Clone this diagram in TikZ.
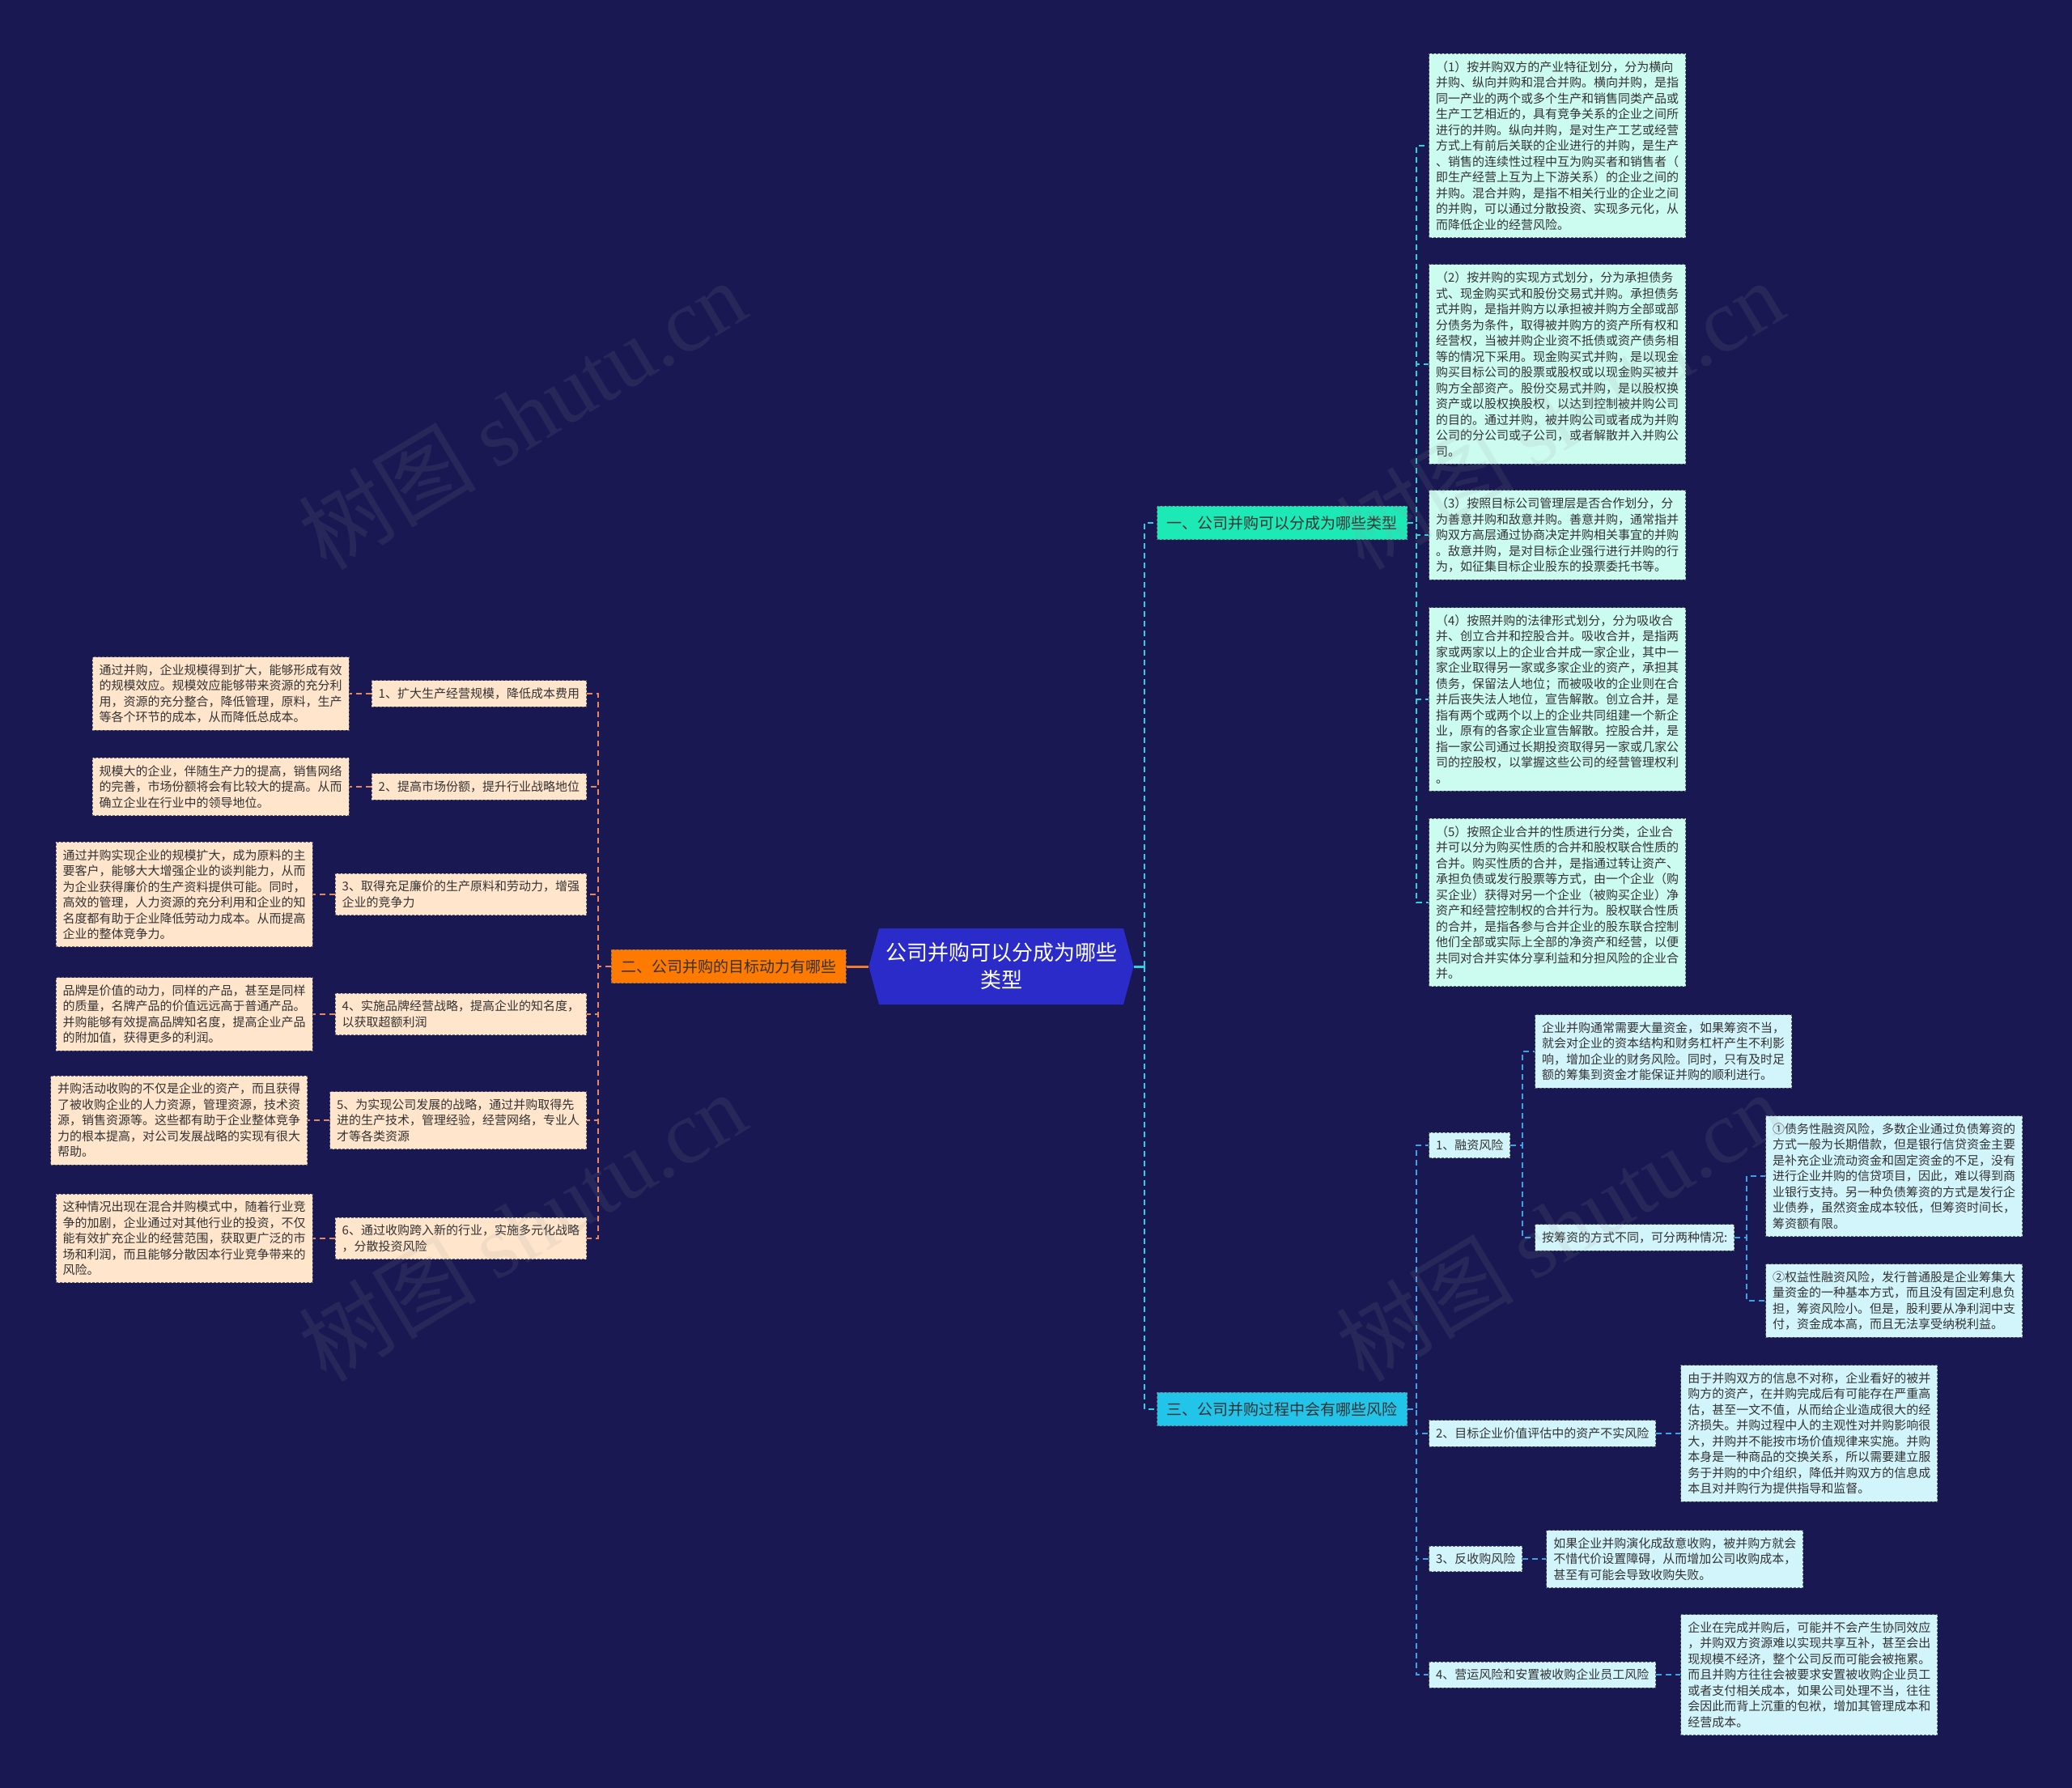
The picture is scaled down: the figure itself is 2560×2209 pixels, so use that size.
\documentclass[tikz,border=0pt]{standalone}
\usepackage{fontspec}
\setmainfont{Noto Sans CJK SC}
\newfontfamily\wmfont{Liberation Serif}
\usepackage{tikz}
\usetikzlibrary{positioning,shapes.symbols,calc}
\definecolor{night}{HTML}{191852}
\definecolor{royal}{HTML}{2A2BC8}
\definecolor{mint}{HTML}{1DE9B6}
\definecolor{amber}{HTML}{FF7A00}
\definecolor{sky}{HTML}{22C4EA}
\definecolor{mintpale}{HTML}{CCFBF0}
\definecolor{skypale}{HTML}{D2F4FB}
\definecolor{peach}{HTML}{FFE5CC}
\definecolor{ink}{HTML}{333333}
\definecolor{rim}{HTML}{5F6670}
\definecolor{tealline}{HTML}{2AD3D6}
\definecolor{spine}{HTML}{2ED0E6}
\definecolor{blueline}{HTML}{3FA2E6}
\definecolor{salmon}{HTML}{E8865E}
\definecolor{ember}{HTML}{F07A30}

\begin{document}
\begin{tikzpicture}[x=1pt,y=-1pt,
  node distance=27pt,
  rootbox/.style={signal,signal to=east and west,signal pointer angle=150,fill=royal,text=white,font=\fontsize{26}{34}\selectfont,align=center,inner xsep=8pt,inner ysep=18pt},
  headbox/.style={draw=rim,dash pattern=on 3pt off 2pt,line width=1pt,text=ink,font=\fontsize{19}{24}\selectfont,inner xsep=12pt,inner ysep=12pt},
  notebox/.style={draw=rim,dash pattern=on 3pt off 2pt,line width=1pt,text=ink,font=\fontsize{15}{19.5}\selectfont,align=left,inner xsep=8.5pt,inner ysep=9pt},
  typenote/.style={notebox,fill=mintpale,anchor=west},
  motivenote/.style={notebox,fill=peach},
  risknote/.style={notebox,fill=skypale,anchor=west},
  spinelink/.style={draw=spine,line width=2pt,dash pattern=on 7pt off 5pt},
  typelink/.style={draw=tealline,line width=2pt,dash pattern=on 7pt off 5pt},
  motivelink/.style={draw=salmon,line width=2pt,dash pattern=on 7pt off 5pt},
  risklink/.style={draw=blueline,line width=2pt,dash pattern=on 7pt off 5pt},
  watermark/.style={text=black!40,opacity=0.12,rotate=31,font=\fontsize{110}{110}\selectfont}
]
\fill[night] (0,0) rectangle (2560,2209);
\useasboundingbox (0,0) rectangle (2560,2209);

\node[rootbox] (root) at (1237,1194) {公司并购可以分成为哪些\\类型};
\node[headbox,fill=mint] (b1) at (1584,646) {一、公司并购可以分成为哪些类型};
\node[headbox,fill=amber] (b2) at (900,1194) {二、公司并购的目标动力有哪些};
\node[headbox,fill=sky] (b3) at (1584,1741) {三、公司并购过程中会有哪些风险};

\node[typenote] (t1) at (1765,180) {（1）按并购双方的产业特征划分，分为横向\\并购、纵向并购和混合并购。横向并购，是指\\同一产业的两个或多个生产和销售同类产品或\\生产工艺相近的，具有竞争关系的企业之间所\\进行的并购。纵向并购，是对生产工艺或经营\\方式上有前后关联的企业进行的并购，是生产\\、销售的连续性过程中互为购买者和销售者（\\即生产经营上互为上下游关系）的企业之间的\\并购。混合并购，是指不相关行业的企业之间\\的并购，可以通过分散投资、实现多元化，从\\而降低企业的经营风险。};
\node[typenote] (t2) at (1765,450) {（2）按并购的实现方式划分，分为承担债务\\式、现金购买式和股份交易式并购。承担债务\\式并购，是指并购方以承担被并购方全部或部\\分债务为条件，取得被并购方的资产所有权和\\经营权，当被并购企业资不抵债或资产债务相\\等的情况下采用。现金购买式并购，是以现金\\购买目标公司的股票或股权或以现金购买被并\\购方全部资产。股份交易式并购，是以股权换\\资产或以股权换股权，以达到控制被并购公司\\的目的。通过并购，被并购公司或者成为并购\\公司的分公司或子公司，或者解散并入并购公\\司。};
\node[typenote] (t3) at (1765,661) {（3）按照目标公司管理层是否合作划分，分\\为善意并购和敌意并购。善意并购，通常指并\\购双方高层通过协商决定并购相关事宜的并购\\。敌意并购，是对目标企业强行进行并购的行\\为，如征集目标企业股东的投票委托书等。};
\node[typenote] (t4) at (1765,864) {（4）按照并购的法律形式划分，分为吸收合\\并、创立合并和控股合并。吸收合并，是指两\\家或两家以上的企业合并成一家企业，其中一\\家企业取得另一家或多家企业的资产，承担其\\债务，保留法人地位；而被吸收的企业则在合\\并后丧失法人地位，宣告解散。创立合并，是\\指有两个或两个以上的企业共同组建一个新企\\业，原有的各家企业宣告解散。控股合并，是\\指一家公司通过长期投资取得另一家或几家公\\司的控股权，以掌握这些公司的经营管理权利\\。};
\node[typenote] (t5) at (1765,1115) {（5）按照企业合并的性质进行分类，企业合\\并可以分为购买性质的合并和股权联合性质的\\合并。购买性质的合并，是指通过转让资产、\\承担负债或发行股票等方式，由一个企业（购\\买企业）获得对另一个企业（被购买企业）净\\资产和经营控制权的合并行为。股权联合性质\\的合并，是指各参与合并企业的股东联合控制\\他们全部或实际上全部的净资产和经营，以便\\共同对合并实体分享利益和分担风险的企业合\\并。};

\node[motivenote,anchor=east] (m1) at (725,857) {1、扩大生产经营规模，降低成本费用};
\node[motivenote,anchor=east] (m2) at (725,972) {2、提高市场份额，提升行业战略地位};
\node[motivenote,anchor=east] (m3) at (725,1105) {3、取得充足廉价的生产原料和劳动力，增强\\企业的竞争力};
\node[motivenote,anchor=east] (m4) at (725,1253) {4、实施品牌经营战略，提高企业的知名度，\\以获取超额利润};
\node[motivenote,anchor=east] (m5) at (725,1384) {5、为实现公司发展的战略，通过并购取得先\\进的生产技术，管理经验，经营网络，专业人\\才等各类资源};
\node[motivenote,anchor=east] (m6) at (725,1530) {6、通过收购跨入新的行业，实施多元化战略\\，分散投资风险};
\node[motivenote,left=of m1] (d1) {通过并购，企业规模得到扩大，能够形成有效\\的规模效应。规模效应能够带来资源的充分利\\用，资源的充分整合，降低管理，原料，生产\\等各个环节的成本，从而降低总成本。};
\node[motivenote,left=of m2] (d2) {规模大的企业，伴随生产力的提高，销售网络\\的完善，市场份额将会有比较大的提高。从而\\确立企业在行业中的领导地位。};
\node[motivenote,left=of m3] (d3) {通过并购实现企业的规模扩大，成为原料的主\\要客户，能够大大增强企业的谈判能力，从而\\为企业获得廉价的生产资料提供可能。同时，\\高效的管理，人力资源的充分利用和企业的知\\名度都有助于企业降低劳动力成本。从而提高\\企业的整体竞争力。};
\node[motivenote,left=of m4] (d4) {品牌是价值的动力，同样的产品，甚至是同样\\的质量，名牌产品的价值远远高于普通产品。\\并购能够有效提高品牌知名度，提高企业产品\\的附加值，获得更多的利润。};
\node[motivenote,left=of m5] (d5) {并购活动收购的不仅是企业的资产，而且获得\\了被收购企业的人力资源，管理资源，技术资\\源，销售资源等。这些都有助于企业整体竞争\\力的根本提高，对公司发展战略的实现有很大\\帮助。};
\node[motivenote,left=of m6] (d6) {这种情况出现在混合并购模式中，随着行业竞\\争的加剧，企业通过对其他行业的投资，不仅\\能有效扩充企业的经营范围，获取更广泛的市\\场和利润，而且能够分散因本行业竞争带来的\\风险。};

\node[risknote] (r1) at (1765,1415) {1、融资风险};
\node[risknote] (r2) at (1765,1771) {2、目标企业价值评估中的资产不实风险};
\node[risknote] (r3) at (1765,1926) {3、反收购风险};
\node[risknote] (r4) at (1765,2069) {4、营运风险和安置被收购企业员工风险};
\node[risknote] (r1a) at (1896,1299) {企业并购通常需要大量资金，如果筹资不当，\\就会对企业的资本结构和财务杠杆产生不利影\\响，增加企业的财务风险。同时，只有及时足\\额的筹集到资金才能保证并购的顺利进行。};
\node[risknote] (r1b) at (1896,1529) {按筹资的方式不同，可分两种情况:};
\node[risknote] (r1b1) at (2181,1453) {①债务性融资风险，多数企业通过负债筹资的\\方式一般为长期借款，但是银行信贷资金主要\\是补充企业流动资金和固定资金的不足，没有\\进行企业并购的信贷项目，因此，难以得到商\\业银行支持。另一种负债筹资的方式是发行企\\业债券，虽然资金成本较低，但筹资时间长，\\筹资额有限。};
\node[risknote] (r1b2) at (2181,1607) {②权益性融资风险，发行普通股是企业筹集大\\量资金的一种基本方式，而且没有固定利息负\\担，筹资风险小。但是，股利要从净利润中支\\付，资金成本高，而且无法享受纳税利益。};
\node[risknote,right=30pt of r2] (r2a) {由于并购双方的信息不对称，企业看好的被并\\购方的资产，在并购完成后有可能存在严重高\\估，甚至一文不值，从而给企业造成很大的经\\济损失。并购过程中人的主观性对并购影响很\\大，并购并不能按市场价值规律来实施。并购\\本身是一种商品的交换关系，所以需要建立服\\务于并购的中介组织，降低并购双方的信息成\\本且对并购行为提供指导和监督。};
\node[risknote,right=29pt of r3] (r3a) {如果企业并购演化成敌意收购，被并购方就会\\不惜代价设置障碍，从而增加公司收购成本，\\甚至有可能会导致收购失败。};
\node[risknote,right=30pt of r4] (r4a) {企业在完成并购后，可能并不会产生协同效应\\，并购双方资源难以实现共享互补，甚至会出\\现规模不经济，整个公司反而可能会被拖累。\\而且并购方往往会被要求安置被收购企业员工\\或者支付相关成本，如果公司处理不当，往往\\会因此而背上沉重的包袱，增加其管理成本和\\经营成本。};

\coordinate (hubR) at ($(root.east)+(13,0)$);
\draw[spine,line width=3pt] (root.east) -- (hubR);
\draw[spinelink] (hubR) |- (b1.west);
\draw[spinelink] (hubR) |- (b3.west);
\draw[ember,line width=3pt] (b2.east) -- (root.west);

\draw[typelink] (b1.east) -- ++(11,0) |- (t1.west);
\draw[typelink] (b1.east) -- ++(11,0) |- (t2.west);
\draw[typelink] (b1.east) -- ++(11,0) |- (t3.west);
\draw[typelink] (b1.east) -- ++(11,0) |- (t4.west);
\draw[typelink] (b1.east) -- ++(11,0) |- (t5.west);

\draw[motivelink] (b2.west) -- ++(-16,0) |- (m1.east);
\draw[motivelink] (b2.west) -- ++(-16,0) |- (m2.east);
\draw[motivelink] (b2.west) -- ++(-16,0) |- (m3.east);
\draw[motivelink] (b2.west) -- ++(-16,0) |- (m4.east);
\draw[motivelink] (b2.west) -- ++(-16,0) |- (m5.east);
\draw[motivelink] (b2.west) -- ++(-16,0) |- (m6.east);
\draw[motivelink] (m1.west) -- (d1.east);
\draw[motivelink] (m2.west) -- (d2.east);
\draw[motivelink] (m3.west) -- (d3.east);
\draw[motivelink] (m4.west) -- (d4.east);
\draw[motivelink] (m5.west) -- (d5.east);
\draw[motivelink] (m6.west) -- (d6.east);

\draw[risklink] (b3.east) -- ++(11,0) |- (r1.west);
\draw[risklink] (b3.east) -- ++(11,0) |- (r2.west);
\draw[risklink] (b3.east) -- ++(11,0) |- (r3.west);
\draw[risklink] (b3.east) -- ++(11,0) |- (r4.west);
\draw[risklink] (r1.east) -- ++(15,0) |- (r1a.west);
\draw[risklink] (r1.east) -- ++(15,0) |- (r1b.west);
\draw[risklink] (r1b.east) -- ++(15,0) |- (r1b1.west);
\draw[risklink] (r1b.east) -- ++(15,0) |- (r1b2.west);
\draw[risklink] (r2.east) -- (r2a.west);
\draw[risklink] (r3.east) -- (r3a.west);
\draw[risklink] (r4.east) -- (r4a.west);

\node[watermark] (w1) at (645,512) {树图 {\wmfont shutu.cn}};
\node[watermark] (w2) at (1927,512) {树图 {\wmfont shutu.cn}};
\node[watermark] (w3) at (645,1515) {树图 {\wmfont shutu.cn}};
\node[watermark] (w4) at (1927,1515) {树图 {\wmfont shutu.cn}};
\end{tikzpicture}
\end{document}
